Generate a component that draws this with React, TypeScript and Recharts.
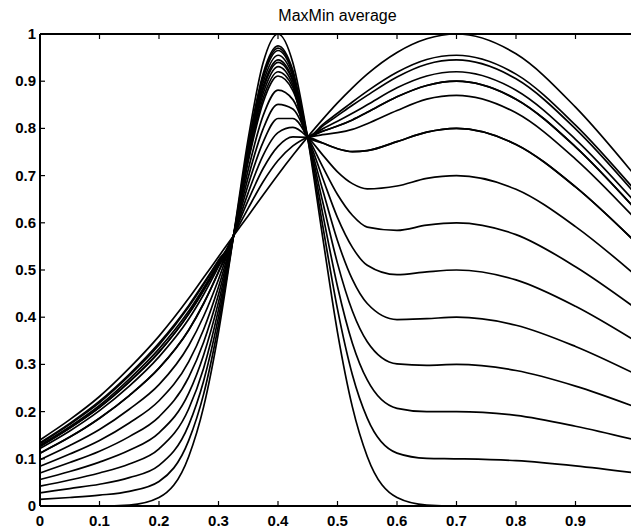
import React from 'react';
import { LineChart, Line, XAxis, YAxis } from 'recharts';

const font = '"Liberation Sans", Arial, sans-serif';

const xs = [0, 0.05, 0.1, 0.15, 0.2, 0.25, 0.275, 0.3, 0.325, 0.35, 0.375, 0.4, 0.425, 0.45, 0.475, 0.5, 0.525, 0.55, 0.6, 0.65, 0.7, 0.8, 0.9, 1.0];
const ticks = [0, 0.1, 0.2, 0.3, 0.4, 0.5, 0.6, 0.7, 0.8, 0.9, 1];

// blends of the narrow bump (peak 0.4) and the wide bump (peak 0.7)
const mix00 = [0, 0, 0, 0.002, 0.018, 0.105, 0.21, 0.368, 0.57, 0.779, 0.939, 1, 0.939, 0.779, 0.57, 0.368, 0.21, 0.105, 0.018, 0.002, 0, 0, 0, 0];
const mix10 = [0.014, 0.018, 0.023, 0.031, 0.052, 0.139, 0.237, 0.384, 0.57, 0.763, 0.911, 0.97, 0.919, 0.779, 0.595, 0.417, 0.278, 0.186, 0.112, 0.101, 0.1, 0.096, 0.085, 0.07];
const mix20 = [0.028, 0.037, 0.046, 0.06, 0.086, 0.172, 0.265, 0.4, 0.57, 0.746, 0.883, 0.94, 0.9, 0.78, 0.62, 0.465, 0.345, 0.267, 0.207, 0.2, 0.2, 0.192, 0.169, 0.14];
const mix30 = [0.042, 0.055, 0.07, 0.089, 0.121, 0.206, 0.292, 0.416, 0.571, 0.73, 0.855, 0.911, 0.88, 0.78, 0.645, 0.514, 0.413, 0.348, 0.301, 0.298, 0.3, 0.287, 0.254, 0.21];
const mix40 = [0.056, 0.073, 0.093, 0.118, 0.155, 0.239, 0.32, 0.432, 0.571, 0.713, 0.827, 0.881, 0.861, 0.78, 0.67, 0.562, 0.48, 0.429, 0.395, 0.397, 0.4, 0.383, 0.338, 0.28];
const mix50 = [0.07, 0.092, 0.116, 0.147, 0.189, 0.273, 0.347, 0.448, 0.571, 0.697, 0.799, 0.851, 0.841, 0.781, 0.695, 0.611, 0.548, 0.51, 0.49, 0.496, 0.5, 0.479, 0.423, 0.35];
const mix60 = [0.084, 0.11, 0.139, 0.176, 0.223, 0.306, 0.374, 0.464, 0.571, 0.681, 0.771, 0.821, 0.821, 0.781, 0.719, 0.66, 0.616, 0.591, 0.584, 0.595, 0.6, 0.575, 0.507, 0.42];
const mix70 = [0.098, 0.128, 0.162, 0.205, 0.257, 0.34, 0.402, 0.48, 0.571, 0.664, 0.743, 0.791, 0.802, 0.781, 0.744, 0.708, 0.683, 0.672, 0.678, 0.694, 0.7, 0.671, 0.592, 0.49];
const mix80 = [0.112, 0.146, 0.186, 0.234, 0.292, 0.373, 0.429, 0.496, 0.572, 0.648, 0.715, 0.762, 0.782, 0.781, 0.769, 0.757, 0.751, 0.753, 0.772, 0.792, 0.8, 0.766, 0.676, 0.56];
const mix90 = [0.126, 0.165, 0.209, 0.263, 0.326, 0.407, 0.457, 0.512, 0.572, 0.631, 0.687, 0.732, 0.763, 0.782, 0.794, 0.805, 0.818, 0.834, 0.867, 0.891, 0.9, 0.862, 0.761, 0.63];
const mix100 = [0.14, 0.183, 0.232, 0.292, 0.36, 0.44, 0.484, 0.528, 0.572, 0.615, 0.659, 0.702, 0.743, 0.782, 0.819, 0.854, 0.886, 0.915, 0.961, 0.99, 1, 0.958, 0.845, 0.7];

// max/min weighted curves, tall peak and high right plateau
const maxMin80 = [0.112, 0.146, 0.186, 0.234, 0.292, 0.373, 0.429, 0.496, 0.571, 0.735, 0.864, 0.92, 0.887, 0.781, 0.769, 0.757, 0.751, 0.753, 0.772, 0.792, 0.8, 0.766, 0.676, 0.56];
const maxMin87 = [0.122, 0.159, 0.202, 0.254, 0.316, 0.396, 0.448, 0.507, 0.572, 0.741, 0.874, 0.931, 0.893, 0.782, 0.787, 0.791, 0.798, 0.81, 0.838, 0.862, 0.87, 0.833, 0.735, 0.609];
const maxMin90 = [0.126, 0.165, 0.209, 0.263, 0.326, 0.407, 0.457, 0.512, 0.572, 0.749, 0.888, 0.945, 0.903, 0.782, 0.794, 0.805, 0.818, 0.834, 0.867, 0.891, 0.9, 0.862, 0.761, 0.63];
const maxMin92 = [0.129, 0.168, 0.213, 0.269, 0.333, 0.413, 0.462, 0.515, 0.572, 0.754, 0.897, 0.955, 0.91, 0.782, 0.799, 0.815, 0.832, 0.85, 0.886, 0.911, 0.92, 0.881, 0.777, 0.644];
const maxMin945 = [0.132, 0.173, 0.219, 0.276, 0.341, 0.422, 0.469, 0.519, 0.572, 0.76, 0.906, 0.965, 0.916, 0.782, 0.805, 0.827, 0.849, 0.87, 0.909, 0.936, 0.945, 0.905, 0.799, 0.662];
const maxMin955 = [0.134, 0.175, 0.222, 0.279, 0.345, 0.425, 0.472, 0.521, 0.572, 0.765, 0.916, 0.975, 0.923, 0.782, 0.808, 0.832, 0.856, 0.879, 0.919, 0.946, 0.955, 0.915, 0.807, 0.669];

const curves = [
    mix00, mix10, mix20, mix30, mix40, mix50, mix60, mix70, mix80, mix90, mix100,
    maxMin80, maxMin87, maxMin90, maxMin92, maxMin945, maxMin955,
];

const data = xs.map((x, i) => {
    const row: Record<string, number> = { x };
    curves.forEach((c, k) => {
        row['c' + k] = c[i];
    });
    return row;
});

const fmt = (v: number) => (v === 0 ? '0' : v === 1 ? '1' : String(v));

function BottomTick(props: any) {
    const { x, y, payload } = props;
    // the "1" label falls past the right edge of the page, so it is left out
    return (
        <g>
            <line x1={x} y1={y} x2={x} y2={y - 5} stroke="#000" strokeWidth={1.2} />
            {payload.value < 1 && (
                <text x={x} y={y + 20} textAnchor="middle" fontSize={15} fontWeight="bold" fontFamily={font} fill="#000">
                    {fmt(payload.value)}
                </text>
            )}
        </g>
    );
}

function TopTick(props: any) {
    const { x, y } = props;
    return <line x1={x} y1={y} x2={x} y2={y + 5} stroke="#000" strokeWidth={1.2} />;
}

function LeftTick(props: any) {
    const { x, y, payload } = props;
    return (
        <g>
            <line x1={x} y1={y} x2={x + 5} y2={y} stroke="#000" strokeWidth={1.2} />
            <text x={x - 4} y={y + 5} textAnchor="end" fontSize={15} fontWeight="bold" fontFamily={font} fill="#000">
                {fmt(payload.value)}
            </text>
        </g>
    );
}

export default function App() {
    return (
        <div style={{ position: 'absolute', left: 0, top: 0, width: 631, height: 530, overflow: 'hidden', background: '#fff' }}>
            <div
                style={{
                    position: 'absolute',
                    left: 0,
                    top: 8,
                    width: 675,
                    textAlign: 'center',
                    fontFamily: font,
                    fontSize: 16,
                    lineHeight: '16px',
                    color: '#000',
                }}
            >
                MaxMin average
            </div>
            <LineChart width={640} height={530} data={data} margin={{ top: 33, right: 5, bottom: 0, left: 0 }}>
                <XAxis
                    dataKey="x"
                    type="number"
                    domain={[0, 1]}
                    ticks={ticks}
                    height={24}
                    tickSize={0}
                    tickMargin={0}
                    tickLine={false}
                    tick={<BottomTick />}
                    axisLine={{ stroke: '#000', strokeWidth: 2 }}
                    interval={0}
                />
                <XAxis
                    xAxisId="top"
                    orientation="top"
                    dataKey="x"
                    type="number"
                    domain={[0, 1]}
                    ticks={ticks}
                    height={1}
                    tickSize={0}
                    tickMargin={0}
                    tickLine={false}
                    tick={<TopTick />}
                    axisLine={{ stroke: '#000', strokeWidth: 2 }}
                    interval={0}
                />
                <YAxis
                    type="number"
                    domain={[0, 1]}
                    ticks={ticks}
                    width={40}
                    tickSize={0}
                    tickMargin={0}
                    tickLine={false}
                    tick={<LeftTick />}
                    axisLine={{ stroke: '#000', strokeWidth: 2 }}
                    interval={0}
                />
                {curves.map((_, k) => (
                    <Line
                        key={k}
                        dataKey={'c' + k}
                        type="monotone"
                        stroke="#000"
                        strokeWidth={1.7}
                        dot={false}
                        activeDot={false}
                        isAnimationActive={false}
                    />
                ))}
            </LineChart>
        </div>
    );
}
